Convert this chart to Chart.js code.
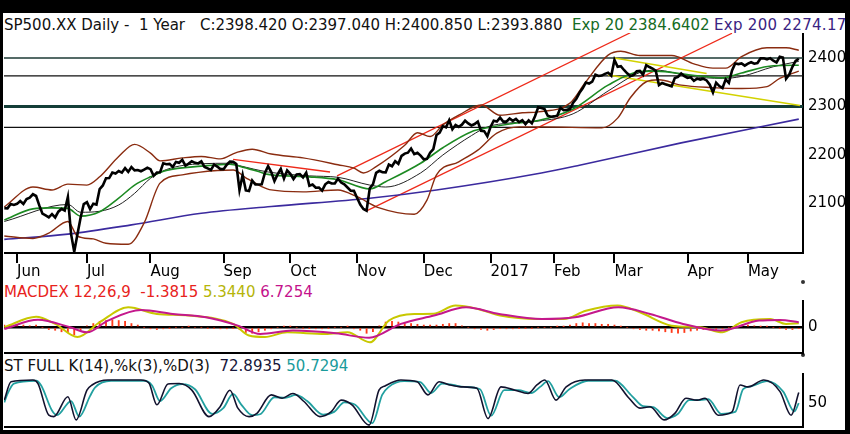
<!DOCTYPE html>
<html>
<head>
<meta charset="utf-8">
<script src="https://cdn.jsdelivr.net/npm/chart.js@4.4.1/dist/chart.umd.min.js"></script>
<style>
  body { margin:0; width:850px; height:434px; background:#000; overflow:hidden; position:relative; font-family:"DejaVu Sans", sans-serif; }
  #sheet { position:absolute; left:3px; top:13px; width:842px; height:417px; background:#fff; overflow:hidden; }
  .hdr { position:absolute; font-size:15px; line-height:18px; white-space:pre; color:#111; }
  canvas { position:absolute; }
  .dot { position:absolute; width:4px; height:4px; border-radius:2px; background:#333; }
</style>
</head>
<body>
<div id="sheet">
  <div class="hdr" style="left:1px;top:3px">SP500.XX Daily -  1 Year</div>
  <div class="hdr" style="left:197px;top:3px">C:2398.420 O:2397.040 H:2400.850 L:2393.880</div>
  <div class="hdr" style="left:569px;top:3px;color:#156b24">Exp 20 2384.6402</div>
  <div class="hdr" style="left:711px;top:3px;color:#3a2382;letter-spacing:0.3px">Exp 200 2274.176</div>
  <div class="hdr" style="left:1px;top:270px"><span style="color:#e8231c">MACDEX 12,26,9  -1.3815</span> <span style="color:#b5b50a">5.3440</span> <span style="color:#c4128c">6.7254</span></div>
  <div class="hdr" style="left:1px;top:344px">ST FULL K(14),%k(3),%D(3)  <span style="color:#16163a">72.8935</span> <span style="color:#1a9b9b">50.7294</span></div>
</div>
<div class="dot" style="left:801px;top:280px"></div>
<div class="dot" style="left:801px;top:353px"></div>
<canvas id="main" width="844" height="250" style="left:4px;top:33px"></canvas>
<canvas id="macd" width="844" height="55" style="left:4px;top:300px"></canvas>
<canvas id="stoch" width="844" height="56" style="left:4px;top:373px"></canvas>
<script>
// daily closes, trading day 0 = 25 May 2016 ... 250 = 23 May 2017
const closeVals = [
  2090.54, 2090.10, 2099.06, 2096.95,
  2099.33, 2105.26, 2099.13, 2109.41, 2112.13, 2119.12, 2115.48, 2096.07, 2079.06, 2075.32, 2071.50,
  2077.99, 2071.22, 2083.25, 2088.90, 2085.45, 2113.32, 2037.41, 2000.54, 2036.09, 2070.77, 2098.86,
  2102.95, 2088.55, 2099.73, 2097.90, 2129.90, 2137.16, 2152.14, 2152.43, 2163.75, 2161.74,
  2166.89, 2163.78, 2173.02, 2165.17, 2175.03, 2168.48, 2169.18, 2166.58, 2170.06, 2173.60,
  2170.84, 2157.03, 2163.79, 2164.25, 2182.87, 2180.89, 2181.74, 2175.49, 2185.79, 2184.05, 2190.15,
  2178.15, 2182.22, 2187.02, 2183.87, 2182.64, 2186.90, 2175.44, 2172.47, 2169.04, 2180.38, 2176.12, 2170.95,
  2170.86, 2179.98, 2186.48, 2186.16, 2181.30, 2127.81, 2159.04, 2127.02, 2125.77, 2147.26, 2139.16,
  2139.12, 2139.76, 2163.12, 2177.18, 2164.69, 2146.10, 2159.93, 2171.37, 2151.13, 2168.27,
  2161.20, 2150.49, 2159.73, 2160.77, 2153.74, 2163.66, 2136.73, 2139.18, 2132.55, 2132.98, 2126.50,
  2139.60, 2144.29, 2141.34, 2141.16, 2151.33, 2143.16, 2139.43, 2133.04, 2126.41, 2126.15,
  2111.72, 2097.94, 2088.66, 2085.18, 2131.52, 2139.56, 2163.26, 2167.48, 2164.45, 2164.20, 2180.39,
  2176.94, 2187.12, 2181.90, 2198.18, 2202.94, 2204.72, 2213.35, 2201.72, 2204.66, 2198.81,
  2191.08, 2191.95, 2204.71, 2212.23, 2241.35, 2246.19, 2259.53, 2256.96, 2271.72, 2253.28, 2262.03,
  2258.07, 2262.53, 2270.76, 2265.18, 2260.96, 2263.79, 2268.88, 2249.92, 2249.26, 2238.83,
  2257.83, 2270.75, 2269.00, 2276.98, 2268.90, 2268.90, 2275.32, 2270.44, 2274.64, 2267.89,
  2271.89, 2263.69, 2271.31, 2265.20, 2280.07, 2298.37, 2296.68, 2294.69, 2280.90, 2278.87,
  2279.55, 2280.85, 2297.42, 2292.56, 2293.08, 2294.67, 2307.87, 2316.10, 2328.25, 2337.58,
  2349.25, 2347.22, 2351.16, 2365.38, 2362.82, 2363.81, 2367.34, 2369.75, 2363.64,
  2395.96, 2381.92, 2383.12, 2375.31, 2368.39, 2362.98, 2364.87, 2372.60, 2373.47, 2365.45, 2385.26,
  2381.38, 2378.25, 2373.47, 2344.02, 2348.45, 2345.96, 2343.98, 2341.59, 2358.57, 2361.13, 2368.06, 2362.72,
  2358.84, 2360.16, 2352.95, 2357.49, 2355.54, 2357.16, 2353.78, 2344.93, 2328.95, 2349.01,
  2342.19, 2338.17, 2355.84, 2348.69, 2374.15, 2388.61, 2387.45, 2388.77, 2384.20,
  2388.33, 2391.17, 2388.13, 2389.52, 2399.29, 2399.38, 2396.92, 2399.63, 2394.44, 2390.90,
  2402.32, 2400.67, 2357.03, 2365.72, 2381.73, 2394.02, 2398.42
];

const monthIdx = [4, 26, 46, 69, 90, 111, 132, 153, 173, 192, 215, 234];
const monthLbl = ['Jun', 'Jul', 'Aug', 'Sep', 'Oct', 'Nov', 'Dec', '2017', 'Feb', 'Mar', 'Apr', 'May'];
const yTicks = [2100, 2200, 2300, 2400];
const hLevels = [2400, 2363, 2300, 2257];

const ema20Days = [0, 9, 15, 20, 24, 30, 36, 41, 46, 51, 62, 71, 75, 80, 83, 96, 105, 115, 120, 131, 138, 147, 152, 159, 168, 179, 190, 200, 205, 216, 226, 232, 242, 250];
const ema20Vals = [2066, 2089, 2091, 2090, 2074, 2083, 2111, 2138, 2155, 2168, 2177, 2181, 2175, 2166, 2160, 2155, 2149, 2130, 2145, 2183, 2215, 2248, 2256, 2264, 2271, 2295, 2344, 2372, 2373, 2365, 2359, 2369, 2384, 2385];

const midDays = [0, 20, 24, 30, 36, 41, 46, 51, 62, 71, 74, 83, 96, 105, 115, 120, 131, 138, 147, 152, 159, 168, 179, 190, 200, 205, 216, 226, 232, 242, 250];
const midVals = [2063, 2098, 2082, 2084, 2097, 2121, 2152, 2170, 2182, 2183, 2178, 2165, 2157, 2154, 2138, 2134, 2163, 2200, 2240, 2258, 2266, 2270, 2285, 2332, 2370, 2375, 2362, 2358, 2362, 2382, 2393];

const upperDays = [0, 9, 15, 20, 26, 30, 36, 41, 46, 49, 56, 62, 68, 73, 78, 84, 94, 105, 110, 113, 117, 126, 130, 134, 138, 143, 150, 156, 163, 168, 178, 183, 190, 194, 200, 210, 217, 223, 227, 232, 240, 246, 250];
const upperVals = [2093, 2134, 2128, 2140, 2138, 2155, 2197, 2222, 2204, 2188, 2194, 2197, 2192, 2205, 2212, 2202, 2194, 2180, 2173, 2163, 2176, 2220, 2246, 2238, 2262, 2282, 2303, 2282, 2287, 2289, 2307, 2351, 2406, 2414, 2405, 2405, 2388, 2379, 2379, 2403, 2421, 2421, 2416];

const lowerDays = [0, 9, 14, 20, 23, 28, 32, 39, 44, 49, 56, 67, 72, 76, 81, 84, 94, 105, 111, 118, 129, 133, 136, 143, 149, 155, 162, 169, 188, 193, 197, 202, 206, 213, 223, 232, 240, 244, 250];
const lowerVals = [2033, 2028, 2039, 2063, 2033, 2027, 2018, 2016, 2060, 2142, 2159, 2168, 2169, 2153, 2135, 2128, 2124, 2128, 2114, 2091, 2078, 2107, 2159, 2186, 2210, 2245, 2258, 2258, 2256, 2276, 2318, 2351, 2355, 2344, 2339, 2337, 2341, 2358, 2373];

const ema200Days = [0, 20, 40, 62, 84, 115, 136, 169, 181, 213, 250];
const ema200Vals = [2026, 2037, 2056, 2080, 2094, 2111, 2128, 2163, 2179, 2225, 2274];

// drawn trend lines (start / end)
const redADays = [72, 102.5];   const redAVals = [2191, 2165];
const redBDays = [104.7, 197];  const redBVals = [2157, 2452];
const redCDays = [114, 229];    const redCVals = [2085, 2451];
const yelADays = [192, 221];    const yelAVals = [2400, 2368];
const yelBDays = [190, 250.4];  const yelBVals = [2365, 2302];

// MACD panel
const macdDays = [0, 10, 16, 23, 30, 39, 48, 58, 72, 77, 82, 89, 101, 108, 115, 121, 129, 135, 142, 149, 156, 168, 176, 183, 193, 200, 210, 219, 226, 232, 241, 246, 250];
const macdVals = [0, 14, 4.5, -13, 6.7, 26.6, 17.8, 15.6, 4.5, -11, -13, -6.7, -8.9, -6.7, -20, 8.9, 17.8, 18, 28.9, 24.4, 15.6, 11, 11, 22, 28.9, 20, 2.2, 0, -6.7, 6.7, 11, 4.5, 5.34];
const signalDays = [0, 10.6, 20.7, 26, 32.6, 43, 53, 63.5, 73.5, 80.5, 90.8, 104.4, 114.8, 124.8, 135.2, 145.3, 155.7, 169.2, 179.6, 193.2, 203.2, 213.6, 225.5, 237.5, 244.1, 250];
const signalVals = [-2.2, 10, 0, -6.7, 8.9, 23, 17.8, 13.3, 2.2, -8.9, -4.4, -8, -14, 4.5, 15.6, 26.6, 17.8, 11, 13.3, 26.6, 17.8, 4.5, -4.4, 8.9, 9.8, 6.73];
// histogram, every second trading day
const histVals = [3, 4, 4, 3, 2, 3, 0, -3, -4, -6, -7, -10, -4, 2, 5, 8, 9, 10, 9, 8, 5, 3, 0, -2, -3, -2, -1, 0, 0, 1,
  0, 0, -1, -1, -2, -2, -1, -3, -7, -8, -6, -4, -2, 0, 1, 1, 0, -1, -1, -2, -2, -1, 0, 0, 1, -2, -4, -8, -6, 2,
  7, 8, 7, 5, 5, 4, 3, 3, 3, 4, 5, 5, 2, 0, -2, -3, -4, -3, -2, -2, -2, -1, -1, -1, 0, 0, 0, 1, 1, 3,
  5, 6, 5, 5, 4, 4, 3, 1, 0, -2, -3, -4, -4, -5, -6, -7, -8, -7, -5, -4, -3, -3, -3, -2, 0, 2, 3, 3, 2, 1,
  1, 0, -1, -3, -3, -1.4];

// Stochastic panel
const kDays = [0, 2.1, 9, 10.6, 14, 15.6, 20, 22.6, 26, 27.6, 32.6, 43, 45.5, 48, 51.5, 55, 59, 64.4, 67.9, 71,
  73.5, 77, 79.5, 84, 87.4, 90.8, 94.3, 99.3, 102.8, 106, 109.4, 114.8, 117.9, 119.8, 124.8, 129.9, 133.3, 136.8, 140.2, 143.7,
  148.7, 152.2, 156.3, 160.7, 164.8, 167.6, 170.1, 173.6, 176.8, 182.7, 191.2, 196.6, 200, 203.2, 207.6, 211, 214.5, 218, 220.5, 224.6,
  229, 231.5, 234, 239, 244.1, 247.6, 250];
const kVals = [57, 96, 99.5, 92, 25, 22, 64, 15, 78, 89, 99.5, 99.5, 93, 47, 91, 92, 78, 22, 43, 78,
  40, 22, 29, 68, 61, 71, 54, 22, 32, 57, 47, 4, 78, 87, 99.5, 96, 68, 96, 89, 85,
  82, 18, 85, 78, 71, 89, 99.5, 57, 85, 99.5, 99.5, 61, 40, 43, 15, 29, 61, 57, 61, 25,
  32, 89, 85, 99.5, 75, 25, 72.9];
const dDays = [0, 1, 3, 10, 11.6, 15, 16.6, 21, 23.6, 27, 28.6, 33.6, 44, 46.5, 49, 52.5, 56, 60, 65.4, 68.9,
  72, 74.5, 78, 80.5, 85, 88.4, 91.8, 95.3, 100.3, 103.8, 107, 110.4, 115.8, 118.9, 120.8, 125.8, 130.9, 134.3, 137.8, 141.2,
  144.7, 149.7, 153.2, 157.3, 161.7, 165.8, 168.6, 171.1, 174.6, 177.8, 183.7, 192.2, 197.6, 201, 204.2, 208.6, 212, 215.5, 219, 221.5,
  225.6, 230, 232.5, 235, 240, 245.1, 248.6, 250];
const dVals = [52, 70, 92, 98, 88, 35, 25, 55, 22, 66, 84, 98, 98, 88, 55, 82, 91, 80, 28, 40,
  70, 48, 25, 27, 63, 62, 68, 55, 26, 32, 52, 47, 8, 68, 84, 97, 95, 72, 92, 89,
  85, 80, 24, 78, 78, 72, 85, 97, 63, 80, 98, 98, 65, 44, 42, 19, 28, 57, 57, 59,
  28, 32, 80, 86, 97, 75, 33, 50.7];

const X_MIN = -0.1, X_MAX = 251.33;

Chart.defaults.font.family = 'DejaVu Sans';
Chart.defaults.font.size = 15;
Chart.defaults.color = '#000';

function pts(days, vals) { return vals.map((v, i) => ({ x: days[i], y: v })); }
function line(data, color, width, smooth) {
  return { type: 'line', data: data, borderColor: color, borderWidth: width, pointRadius: 0, fill: false,
           tension: smooth ? 0.4 : 0, cubicInterpolationMode: smooth ? 'monotone' : 'default' };
}
// fix axis box sizes and drop the label half-height padding chart.js adds
function fixWidth(w) { return s => { s.width = w; s.paddingTop = 0; s.paddingBottom = 0; }; }
function fixHeight(h) { return s => { s.height = h; s.paddingLeft = 0; s.paddingRight = 0; }; }

function baseOptions(yOpts, xOpts) {
  return {
    responsive: false, animation: false, events: [],
    layout: { padding: 0, autoPadding: false },
    plugins: { legend: { display: false }, tooltip: { enabled: false } },
    scales: { x: xOpts, y: yOpts }
  };
}
function panelX() {
  return { type: 'linear', min: X_MIN, max: X_MAX, offset: false,
           afterFit: fixHeight(2),
           ticks: { display: false }, grid: { display: false },
           border: { display: true, color: '#000', width: 2 } };
}
function rightY(min, max, tickVals, gridOpts) {
  return { type: 'linear', position: 'right', min: min, max: max,
           afterFit: fixWidth(45),
           afterBuildTicks: s => { s.ticks = tickVals.map(v => ({ value: v })); },
           ticks: { padding: 5, callback: v => String(v) },
           grid: gridOpts || { display: false, drawTicks: false, tickLength: 0 },
           border: { display: true, color: '#000', width: 2 } };
}

// main price panel
const hStyles = [{ c: '#1c3a34', w: 1.6 }, { c: '#111', w: 1.2 }, { c: '#143e38', w: 3 }, { c: '#111', w: 1.2 }];
const mainSets = [
  line(closeVals.map((v, i) => ({ x: i, y: v })), '#000', 2.6, false),
  line(pts(ema20Days, ema20Vals), '#1c8a22', 1.6, true),
  line(pts(midDays, midVals), '#222', 1, true),
  line(pts(upperDays, upperVals), '#8a2c10', 1.4, true),
  line(pts(lowerDays, lowerVals), '#8a2c10', 1.4, true),
  line(pts(ema200Days, ema200Vals), '#3b2a9e', 1.6, true),
  line(pts(yelADays, yelAVals), '#d2d200', 1.6, false),
  line(pts(yelBDays, yelBVals), '#d2d200', 1.6, false),
  line(pts(redADays, redAVals), '#ee2a1a', 1.3, false),
  line(pts(redBDays, redBVals), '#ee2a1a', 1.3, false),
  line(pts(redCDays, redCVals), '#ee2a1a', 1.3, false)
].concat(hLevels.map((lv, i) => line([{ x: X_MIN, y: lv }, { x: X_MAX, y: lv }], hStyles[i].c, hStyles[i].w, false)));

new Chart(document.getElementById('main'), {
  type: 'line',
  data: { datasets: mainSets },
  options: baseOptions(
    rightY(1998, 2451.5, yTicks),
    { type: 'linear', min: X_MIN, max: X_MAX, offset: false,
      afterFit: fixHeight(30),
      afterBuildTicks: s => { s.ticks = monthIdx.map(v => ({ value: v })); },
      ticks: { callback: (v, i) => monthLbl[i], align: 'start', autoSkip: false, maxRotation: 0, minRotation: 0, padding: 0 },
      grid: { drawOnChartArea: false, drawTicks: true, tickLength: 10, color: '#000', lineWidth: 2 },
      border: { display: true, color: '#000', width: 2 } }
  )
});

// MACD panel
new Chart(document.getElementById('macd'), {
  type: 'line',
  data: { datasets: [
    line(pts(signalDays, signalVals), '#c4188c', 2, true),
    line(pts(macdDays, macdVals), '#c8c800', 2, true),
    { type: 'bar', data: histVals.map((v, i) => ({ x: i * 2, y: v })), backgroundColor: '#ff3a1a',
      borderWidth: 0, barThickness: 1.2, grouped: false }
  ] },
  options: baseOptions(
    rightY(-34.3, 36.4, [0], { display: true, drawOnChartArea: true, drawTicks: false, tickLength: 0, color: '#000', lineWidth: 2.5 }),
    panelX()
  )
});

// Stochastic panel
new Chart(document.getElementById('stoch'), {
  type: 'line',
  data: { datasets: [
    line(pts(kDays, kVals), '#12122e', 1.6, true),
    line(pts(dDays, dVals), '#22a0a0', 1.8, true)
  ] },
  options: baseOptions(rightY(0, 114.4, [50]), panelX())
});
</script>
</body>
</html>
